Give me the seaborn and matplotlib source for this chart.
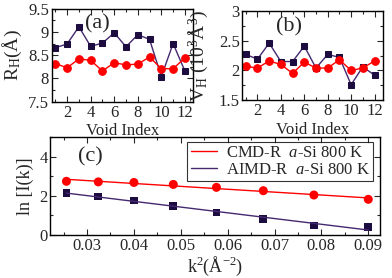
import numpy as np
import pandas as pd
import matplotlib
matplotlib.use("Agg")
import matplotlib.pyplot as plt
from matplotlib.ticker import MultipleLocator
import seaborn as sns

# ---- data ----
void_index = list(range(1, 13))
rh_cmd = [8.32, 8.23, 8.42, 8.39, 8.16, 8.34, 8.29, 8.31, 8.46, 8.21, 8.21, 8.44]
rh_aimd = [8.66, 8.74, 9.11, 8.69, 8.76, 8.98, 8.68, 8.94, 8.84, 8.04, 8.75, 8.16]
vh_cmd = [2.07, 2.04, 2.16, 2.10, 1.95, 2.14, 2.04, 2.04, 2.18, 2.00, 2.04, 2.16]
vh_aimd = [2.27, 2.19, 2.46, 2.15, 2.15, 2.41, 2.04, 2.27, 2.22, 1.76, 2.06, 1.92]
k2 = [0.0256, 0.0324, 0.0400, 0.0484, 0.0576, 0.0676, 0.0784, 0.0900]
lnI_cmd = [2.74, 2.71, 2.68, 2.58, 2.43, 2.26, 2.04, 1.82]
lnI_aimd = [2.15, 1.97, 1.75, 1.49, 1.15, 0.81, 0.49, 0.41]
legend_labels = ["CMD-R  $\\it{a}$-Si 800 K", "AIMD-R  $\\it{a}$-Si 800 K"]

RED = "#ff0000"
NAVY = "#1c0c40"
PURPLE = "#45286f"

sns.set_style("ticks")
plt.rcParams["font.family"] = ["Liberation Serif", "DejaVu Serif"]
plt.rcParams["mathtext.fontset"] = "custom"
plt.rcParams["mathtext.rm"] = "Liberation Serif"
plt.rcParams["mathtext.it"] = "Liberation Serif:italic"
plt.rcParams["axes.linewidth"] = 1.0

fig = plt.figure(figsize=(3.92, 2.78), dpi=100)
ax_a = fig.add_axes([0.1327, 0.634, 0.36, 0.335])
ax_b = fig.add_axes([0.6186, 0.640, 0.3577, 0.320])
ax_c = fig.add_axes([0.1288, 0.1547, 0.8406, 0.3525])

TICK_FS = 12


def style(ax):
    ax.tick_params(which="both", direction="in", top=True, right=True,
                   labelsize=TICK_FS, pad=2, width=0.8)
    ax.tick_params(which="major", length=4)
    ax.tick_params(which="minor", length=2)
    for s in ax.spines.values():
        s.set_linewidth(1.0)
        s.set_color("black")


def void_panel(ax, y1, y2, ylim, major, minor, ylabel, tag, tagpos):
    df = pd.DataFrame({"idx": void_index * 2,
                       "val": y1 + y2,
                       "series": ["CMD"] * 12 + ["AIMD"] * 12})
    sns.lineplot(data=df[df.series == "AIMD"], x="idx", y="val", ax=ax,
                 color=PURPLE, lw=1.0, marker="s", markersize=4.5,
                 markerfacecolor=NAVY, markeredgecolor=NAVY)
    sns.lineplot(data=df[df.series == "CMD"], x="idx", y="val", ax=ax,
                 color=RED, lw=1.0, marker="o", markersize=5.5,
                 markerfacecolor=RED, markeredgecolor=RED)
    ax.set_xlim(0.72, 12.7)
    ax.set_ylim(*ylim)
    ax.xaxis.set_major_locator(MultipleLocator(2))
    ax.xaxis.set_minor_locator(MultipleLocator(1))
    ax.yaxis.set_major_locator(MultipleLocator(major))
    ax.yaxis.set_minor_locator(MultipleLocator(minor))
    ax.set_xlabel("Void Index", fontsize=12, labelpad=2)
    ax.set_ylabel(ylabel, fontsize=14)
    ax.text(tagpos[0], tagpos[1], tag, transform=ax.transAxes, fontsize=16,
            ha="center", va="center")
    style(ax)


void_panel(ax_a, rh_cmd, rh_aimd, (7.5, 9.5), 0.5, 0.25,
           "R$_\\mathrm{H}$(Å)", "(a)", (0.32, 0.84))
ax_a.set_yticks([7.5, 8, 8.5, 9, 9.5])
ax_a.set_yticklabels(["7.5", "8", "8.5", "9", "9.5"])
ax_a.yaxis.set_label_coords(-0.2, 0.5)

void_panel(ax_b, vh_cmd, vh_aimd, (1.5, 3.0), 0.5, 0.25,
           "V$_\\mathrm{H}$ (10$^3$Å$^3$)", "(b)", (0.33, 0.82))
ax_b.set_yticks([1.5, 2, 2.5, 3])
ax_b.set_yticklabels(["1.5", "2", "2.5", "3"])
ax_b.yaxis.set_label_coords(-0.235, 0.5)

# ---- panel (c) ----
sns.regplot(x=k2, y=lnI_cmd, ax=ax_c, ci=None, truncate=True,
            marker="o", color=RED,
            scatter_kws={"s": 42, "color": RED, "edgecolor": "none", "alpha": 1},
            line_kws={"color": RED, "lw": 1.0, "label": legend_labels[0]})
sns.regplot(x=k2, y=lnI_aimd, ax=ax_c, ci=None, truncate=True,
            marker="s", color=NAVY,
            scatter_kws={"s": 30, "color": NAVY, "edgecolor": "none", "alpha": 1},
            line_kws={"color": PURPLE, "lw": 1.0, "label": legend_labels[1]})
ax_c.set_xlim(0.0222, 0.0925)
ax_c.set_ylim(0, 5)
ax_c.xaxis.set_major_locator(MultipleLocator(0.01))
ax_c.xaxis.set_minor_locator(MultipleLocator(0.005))
ax_c.yaxis.set_major_locator(MultipleLocator(2))
ax_c.yaxis.set_minor_locator(MultipleLocator(1))
ax_c.set_xticks([0.03, 0.04, 0.05, 0.06, 0.07, 0.08, 0.09])
ax_c.set_xticklabels(["0.03", "0.04", "0.05", "0.06", "0.07", "0.08", "0.09"])
ax_c.set_yticks([0, 2, 4])
ax_c.set_yticklabels(["0", "2", "4"])
ax_c.set_xlabel("k$^2$(Å$^{-2}$)", fontsize=13, labelpad=1)
ax_c.set_ylabel("ln [I(k)]", fontsize=13)
ax_c.yaxis.set_label_coords(-0.05, 0.5)
ax_c.text(0.12, 0.8, "(c)", transform=ax_c.transAxes, fontsize=16,
          ha="center", va="center")
style(ax_c)
lines = [l for l in ax_c.get_lines() if not l.get_label().startswith("_")]
leg = ax_c.legend(handles=lines, loc="upper left", bbox_to_anchor=(0.415, 0.95),
                  fontsize=12, frameon=True, fancybox=False, handlelength=1.6,
                  handletextpad=0.5, borderpad=0.2, labelspacing=0.05,
                  borderaxespad=0)
leg.get_frame().set_edgecolor("black")
leg.get_frame().set_linewidth(0.8)

fig.savefig("out.png", dpi=100)
